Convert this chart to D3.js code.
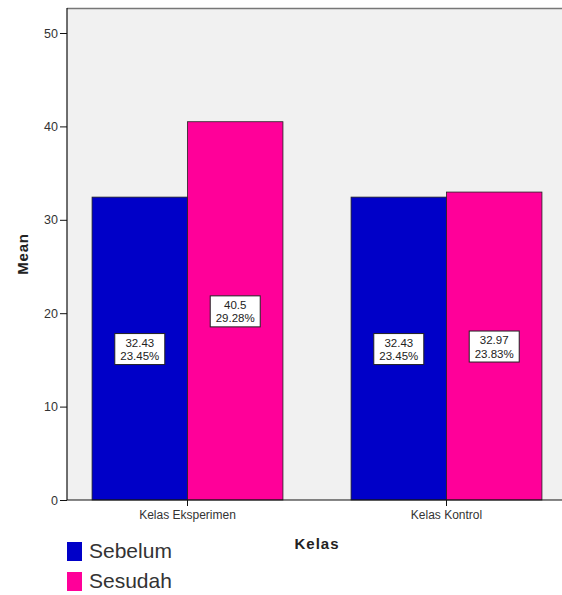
<!DOCTYPE html>
<html>
<head>
<meta charset="utf-8">
<script src="https://cdn.jsdelivr.net/npm/d3@7"></script>
<style>
  body { margin: 0; background: #fff; }
  svg { display: block; font-family: Arial, "Liberation Sans", sans-serif; }
</style>
</head>
<body>
<div id="chart"></div>
<script>
// data
var kelas = ["Kelas Eksperimen", "Kelas Kontrol"];
var seri = ["Sebelum", "Sesudah"];
var nilaiSebelum = [32.43, 32.43];
var nilaiSesudah = [40.5, 32.97];
var persenSebelum = ["23.45%", "23.45%"];
var persenSesudah = ["29.28%", "23.83%"];
var yTicks = [0, 10, 20, 30, 40, 50];
var warna = ["#0000c8", "#ff0099"];

var rows = [];
kelas.forEach(function(k, i){
  rows.push({kelas: k, seri: "Sebelum", nilai: nilaiSebelum[i], persen: persenSebelum[i]});
  rows.push({kelas: k, seri: "Sesudah", nilai: nilaiSesudah[i], persen: persenSesudah[i]});
});

var width = 562, height = 595;
var plot = {left: 67, right: 562, top: 8, bottom: 500};

var svg = d3.select("#chart").append("svg")
  .attr("width", width)
  .attr("height", height);

// skale
var y = d3.scaleLinear().domain([0, 10]).range([plot.bottom, plot.bottom - 93.4]);
var x0 = d3.scaleBand().domain(kelas).range([58, 576])
  .paddingInner(0.263).paddingOuter(0.1315);
var x1 = d3.scaleBand().domain(seri).range([0, x0.bandwidth()]);
var kolor = d3.scaleOrdinal().domain(seri).range(warna);

// tlo wykresu
svg.append("rect")
  .attr("x", plot.left).attr("y", plot.top)
  .attr("width", plot.right - plot.left).attr("height", plot.bottom - plot.top)
  .attr("fill", "#f1f1f1");

svg.append("line")
  .attr("x1", plot.left).attr("x2", plot.right)
  .attr("y1", plot.top + 0.5).attr("y2", plot.top + 0.5)
  .attr("stroke", "#777").attr("stroke-width", 1.5);

// slupki
svg.append("g").selectAll("rect")
  .data(rows).join("rect")
  .attr("x", function(d){ return x0(d.kelas) + x1(d.seri); })
  .attr("y", function(d){ return y(d.nilai); })
  .attr("width", x1.bandwidth())
  .attr("height", function(d){ return y(0) - y(d.nilai); })
  .attr("fill", function(d){ return kolor(d.seri); })
  .attr("stroke", "#222").attr("stroke-width", 0.8);

// etykiety
var lab = svg.append("g").selectAll("g")
  .data(rows).join("g")
  .attr("transform", function(d){
    return "translate(" + (x0(d.kelas) + x1(d.seri) + x1.bandwidth() / 2) + "," + y(d.nilai / 2) + ")";
  });

lab.append("rect")
  .attr("x", -25).attr("y", -15).attr("width", 50).attr("height", 31)
  .attr("fill", "#fff").attr("stroke", "#222").attr("stroke-width", 1);

lab.append("text")
  .attr("text-anchor", "middle").attr("y", -2)
  .style("font-size", "11.5px").attr("fill", "#222")
  .text(function(d){ return d.nilai; });

lab.append("text")
  .attr("text-anchor", "middle").attr("y", 11.5)
  .style("font-size", "11.5px").attr("fill", "#222")
  .text(function(d){ return d.persen; });

// os y
var yAxis = svg.append("g")
  .attr("transform", "translate(" + plot.left + ",0)")
  .call(d3.axisLeft(y).tickValues(yTicks).tickSize(7).tickPadding(2));
yAxis.select(".domain").attr("d", "M0," + plot.bottom + "V" + plot.top).attr("stroke", "#111").attr("stroke-width", 1.2);
yAxis.selectAll(".tick line").attr("stroke", "#111");
yAxis.selectAll("text").style("font-size", "12.5px").attr("fill", "#333").style("font-family", "Arial, 'Liberation Sans', sans-serif");

// os x
var xAxis = svg.append("g")
  .attr("transform", "translate(0," + plot.bottom + ")")
  .call(d3.axisBottom(x0).tickSize(6).tickPadding(4));
xAxis.select(".domain").attr("d", "M" + plot.left + ",0H" + plot.right).attr("stroke", "#111").attr("stroke-width", 1.2);
xAxis.selectAll(".tick line").attr("stroke", "#111");
xAxis.selectAll("text").style("font-size", "12px").attr("fill", "#333").style("font-family", "Arial, 'Liberation Sans', sans-serif");

// tytuly osi
svg.append("text")
  .attr("x", 317).attr("y", 549)
  .attr("text-anchor", "middle")
  .style("font-size", "15px").style("font-weight", "bold").style("letter-spacing", "1px").attr("fill", "#222")
  .text("Kelas");

svg.append("text")
  .attr("transform", "translate(28,254) rotate(-90)")
  .attr("text-anchor", "middle")
  .style("font-size", "15px").style("font-weight", "bold").style("letter-spacing", "0.8px").attr("fill", "#222")
  .text("Mean");

// legenda
var leg = svg.append("g").selectAll("g")
  .data(seri).join("g")
  .attr("transform", function(d, i){ return "translate(67," + (542 + i * 30) + ")"; });

leg.append("rect")
  .attr("width", 15).attr("height", 19)
  .attr("fill", function(d){ return kolor(d); });

leg.append("text")
  .attr("x", 22).attr("y", 16)
  .style("font-size", "21px").attr("fill", "#333")
  .text(function(d){ return d; });
</script>
</body>
</html>
